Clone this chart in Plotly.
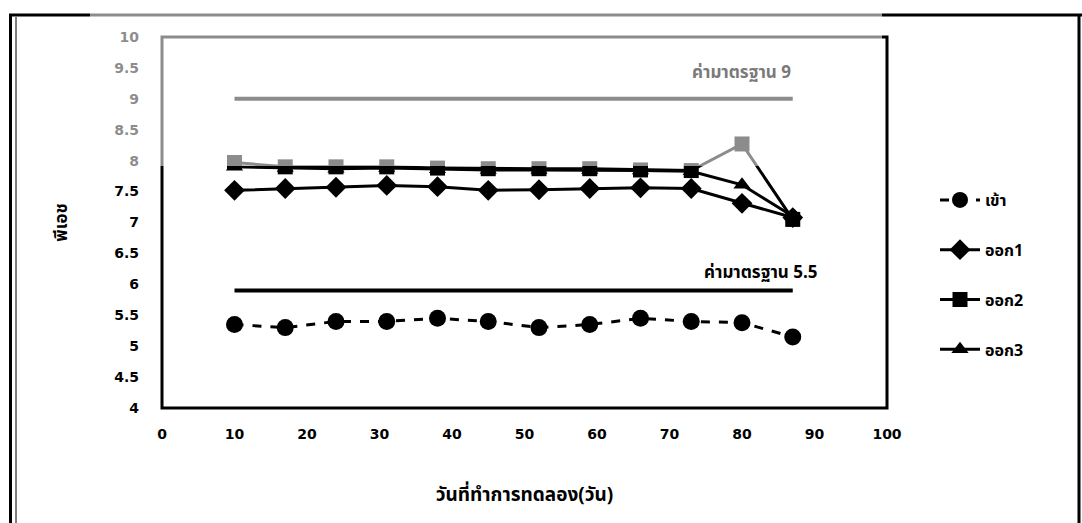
import plotly.graph_objects as go

# ---- data ----
days = [10, 17, 24, 31, 38, 45, 52, 59, 66, 73, 80, 87]
ph_in = [5.35, 5.3, 5.4, 5.4, 5.45, 5.4, 5.3, 5.35, 5.45, 5.4, 5.38, 5.15]
ph_out1 = [7.52, 7.55, 7.57, 7.6, 7.58, 7.52, 7.53, 7.55, 7.56, 7.55, 7.31, 7.08]
ph_out2 = [7.97, 7.9, 7.9, 7.9, 7.88, 7.87, 7.87, 7.87, 7.85, 7.84, 8.27, 7.05]
ph_out3 = [7.9, 7.88, 7.87, 7.88, 7.86, 7.85, 7.85, 7.85, 7.84, 7.83, 7.61, 7.1]
series_names = ["เข้า", "ออก1", "ออก2", "ออก3"]
std_upper = 9
std_lower = 5.9
std_days = [10, 87]
std_upper_label = "ค่ามาตรฐาน 9"
std_lower_label = "ค่ามาตรฐาน 5.5"
x_ticks = [0, 10, 20, 30, 40, 50, 60, 70, 80, 90, 100]
y_ticks = [4, 4.5, 5, 5.5, 6, 6.5, 7, 7.5, 8, 8.5, 9, 9.5, 10]
x_title = "วันที่ทำการทดลอง(วัน)"
y_title = "พีเอช"

W, H = 1082, 523
L, R, T, B = 162, 195, 37, 115
pw, ph = W - L - R, H - T - B


def px_x(p):
    return (p - L) / pw


def px_y(p):
    return (H - B - p) / ph


THAI = "Noto Sans Thai, Noto Sans, DejaVu Sans, sans-serif"

fig = go.Figure()

# standard lines
fig.add_trace(go.Scatter(x=std_days, y=[std_upper] * 2, mode="lines",
                         line=dict(color="#000", width=4), showlegend=False, hoverinfo="skip"))
fig.add_trace(go.Scatter(x=std_days, y=[std_lower] * 2, mode="lines",
                         line=dict(color="#000", width=4), showlegend=False, hoverinfo="skip"))

fig.add_trace(go.Scatter(x=days, y=ph_in, name=series_names[0], mode="lines+markers",
                         line=dict(color="#000", width=3, dash="dash"),
                         marker=dict(symbol="circle", size=17, color="#000"),
                         legendgroup="a"))
fig.add_trace(go.Scatter(x=days, y=ph_out1, name=series_names[1], mode="lines+markers",
                         line=dict(color="#000", width=3),
                         marker=dict(symbol="diamond", size=16, color="#000"),
                         legendgroup="b"))
fig.add_trace(go.Scatter(x=days, y=ph_out2, name=series_names[2], mode="lines+markers",
                         line=dict(color="#000", width=3),
                         marker=dict(symbol="square", size=15, color="#000"),
                         legendgroup="c"))
fig.add_trace(go.Scatter(x=days, y=ph_out3, name=series_names[3], mode="lines+markers",
                         line=dict(color="#000", width=3),
                         marker=dict(symbol="triangle-up", size=15, color="#000"),
                         legendgroup="d"))

shapes = [
    # plot frame
    dict(type="rect", xref="paper", yref="paper", x0=0, x1=1, y0=0, y1=1,
         line=dict(color="#000", width=3), layer="above"),
    # outer border of the figure
    dict(type="line", xref="paper", yref="paper", x0=px_x(9), x1=px_x(1082), y0=px_y(15), y1=px_y(15),
         line=dict(color="#000", width=3)),
    dict(type="line", xref="paper", yref="paper", x0=px_x(10.5), x1=px_x(10.5), y0=px_y(14), y1=px_y(523),
         line=dict(color="#000", width=3)),
    dict(type="line", xref="paper", yref="paper", x0=px_x(16), x1=px_x(16), y0=px_y(17), y1=px_y(523),
         line=dict(color="#000", width=1)),
    dict(type="line", xref="paper", yref="paper", x0=px_x(1079), x1=px_x(1079), y0=px_y(14), y1=px_y(523),
         line=dict(color="#000", width=3)),
    # faded (washed-out) upper band of the scan
    dict(type="rect", xref="paper", yref="paper", x0=px_x(90), x1=px_x(882), y0=px_y(166), y1=px_y(10),
         fillcolor="rgba(255,255,255,0.55)", line=dict(width=0), layer="above"),
]

annotations = [
    dict(x=87, y=9.42, xref="x", yref="y", text=std_upper_label, showarrow=False,
         xanchor="right", yanchor="middle", font=dict(family=THAI, size=17, color="#7a7a7a", weight="bold")),
    dict(x=90.8, y=6.18, xref="x", yref="y", text=std_lower_label, showarrow=False,
         xanchor="right", yanchor="middle", font=dict(family=THAI, size=17, color="#000", weight="bold")),
]

fig.update_layout(
    width=W, height=H,
    margin=dict(l=L, r=R, t=T, b=B),
    paper_bgcolor="white", plot_bgcolor="white",
    shapes=shapes, annotations=annotations,
    showlegend=True,
    legend=dict(x=px_x(935), y=px_y(183), xanchor="left", yanchor="top",
                font=dict(family=THAI, size=16, color="#000", weight="bold"),
                tracegroupgap=26, bgcolor="rgba(0,0,0,0)", itemwidth=40),
    xaxis=dict(range=[0, 100], tickvals=x_ticks, ticktext=[str(v) for v in x_ticks],
               showgrid=False, zeroline=False, showline=False, ticks="",
               tickfont=dict(family="DejaVu Sans", size=14, color="#000", weight="bold"),
               ticklabelstandoff=16,
               title=dict(text=x_title, standoff=46,
                          font=dict(family=THAI, size=19, color="#000", weight="bold"))),
    yaxis=dict(range=[4, 10], tickvals=y_ticks, ticktext=[f"{v:g}" for v in y_ticks],
               showgrid=False, zeroline=False, showline=False, ticks="",
               tickfont=dict(family="DejaVu Sans", size=14, color="#000", weight="bold"),
               ticklabelstandoff=22,
               title=dict(text=y_title, standoff=42,
                          font=dict(family=THAI, size=17, color="#000", weight="bold"))),
)

fig.write_html("out.html")
